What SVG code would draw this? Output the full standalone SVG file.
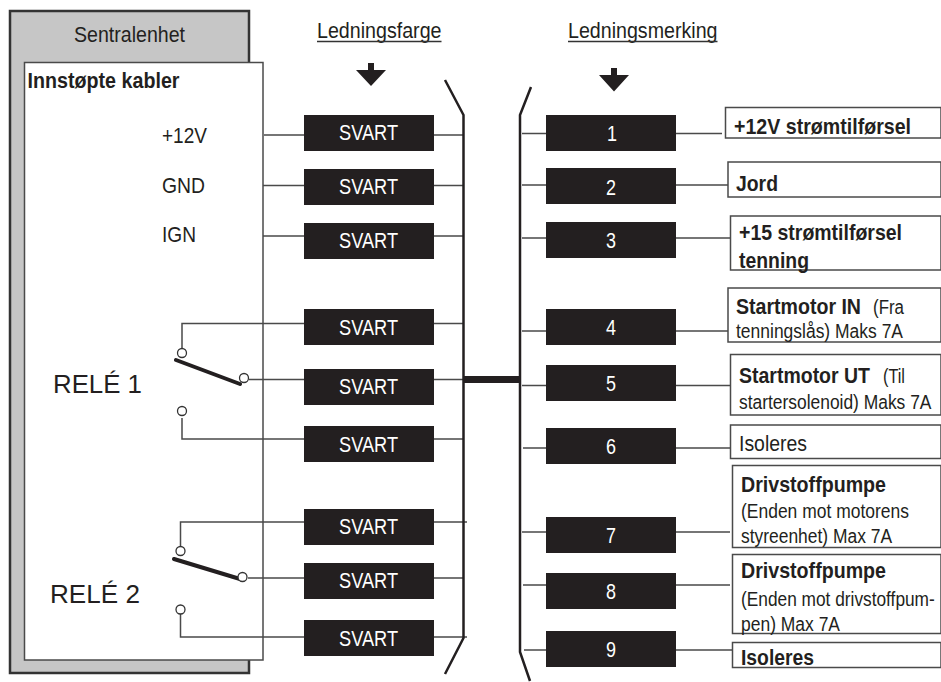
<svg xmlns="http://www.w3.org/2000/svg" width="941" height="682" viewBox="0 0 941 682">
<style>
text{font-family:"Liberation Sans",Arial,sans-serif;fill:#231f20;font-size:22px}
.b{font-weight:bold;font-size:21.500px}
.s{font-size:19.500px}
.r{font-size:25px}
.w{fill:#fff}
.box{fill:#231f20}
.lab{fill:#fff;stroke:#4a4a4a;stroke-width:1.5}
.wire{fill:none;stroke:#4a4a4a;stroke-width:1.5}
.bus{fill:none;stroke:#231f20;stroke-width:2.5}
.pin{fill:#fff;stroke:#333;stroke-width:1.3}
.arm{stroke:#231f20;stroke-width:4;stroke-linecap:round}
</style>
<g id="sentralenhet">
<path d="M10 11H249V673H10Z" fill="#c6c6c6" stroke="#333" stroke-width="2.5"/>
<text x="74" y="41.500" textLength="111" lengthAdjust="spacingAndGlyphs">Sentralenhet</text>
</g>
<g id="innstopte">
<rect x="24.500" y="62.500" width="238.500" height="597.500" fill="#fff" stroke="#4a4a4a" stroke-width="1.5"/>
<text x="27.500" y="87.500" class="b" textLength="152" lengthAdjust="spacingAndGlyphs">Innstøpte kabler</text>
<text x="162" y="142.500" textLength="45" lengthAdjust="spacingAndGlyphs">+12V</text>
<text x="162" y="193" textLength="43" lengthAdjust="spacingAndGlyphs">GND</text>
<text x="162" y="242" textLength="34" lengthAdjust="spacingAndGlyphs">IGN</text>
<text x="53" y="393" class="r" textLength="89" lengthAdjust="spacingAndGlyphs">RELÉ 1</text>
<text x="50" y="603" class="r" textLength="90" lengthAdjust="spacingAndGlyphs">RELÉ 2</text>
</g>
<g id="connectors">
<path class="wire" d="M264 135H304M263 185.500H304M263 236H304M182 352V323.500H304M249 379.500H304M182 418V439H304M180.500 550V522H304M248 578H304M180.500 612V637H304"/>
<path class="wire" d="M434 135H463M434 185.500H463M434 236H463M434 323.500H463M434 379.500H463M434 439H463M434 522H467M434 578H463M434 637H467"/>
<path class="wire" d="M522 133.500H546M522 185H546M522 238H546M522 331H546M522 385.500H546M523 448H546M522 532H546M523 585H546M524 650H546"/>
<path class="wire" d="M676 133.500H722M676 185H728M676 238H730M676 331H728M676 385.500H730M676 448H730M676 532H730M676 585H730M676 650H733"/>
<path class="bus" d="M445 80L463.500 115V638L445 674"/>
<path class="bus" d="M531 87L520 115V652L530 681"/>
<path d="M464 379.500H520" stroke="#231f20" stroke-width="7" fill="none"/>
<path class="arm" d="M176 360L240 384M174 559L240 579"/>
<circle class="pin" cx="182" cy="353" r="4.500"/>
<circle class="pin" cx="244" cy="378" r="4.500"/>
<circle class="pin" cx="182" cy="411" r="4.500"/>
<circle class="pin" cx="180.500" cy="551" r="4.500"/>
<circle class="pin" cx="242.500" cy="577" r="4.500"/>
<circle class="pin" cx="180.500" cy="609.500" r="4.500"/>
<path d="M368 63h6v7h12l-15 16l-15-16h12z" fill="#231f20"/>
<path d="M611 68h6v7h12l-15 16.500l-15-16.500h12z" fill="#231f20"/>
</g>
<g id="headers">
<text x="317" y="38" textLength="124.500" lengthAdjust="spacingAndGlyphs">Ledningsfarge</text>
<path d="M317 41.500H441.500" stroke="#333" stroke-width="1.300"/>
<text x="568" y="38" textLength="149.500" lengthAdjust="spacingAndGlyphs">Ledningsmerking</text>
<path d="M568 41.500H717.500" stroke="#333" stroke-width="1.300"/>
</g>
<g id="wire-1"><rect class="box" x="304" y="115" width="130" height="36"/><text class="w" x="339" y="140" textLength="59" lengthAdjust="spacingAndGlyphs">SVART</text></g>
<g id="wire-2"><rect class="box" x="304" y="169" width="130" height="36"/><text class="w" x="339" y="193.500" textLength="59" lengthAdjust="spacingAndGlyphs">SVART</text></g>
<g id="wire-3"><rect class="box" x="304" y="223" width="130" height="36"/><text class="w" x="339" y="248" textLength="59" lengthAdjust="spacingAndGlyphs">SVART</text></g>
<g id="wire-4"><rect class="box" x="304" y="309" width="130" height="36"/><text class="w" x="339" y="335" textLength="59" lengthAdjust="spacingAndGlyphs">SVART</text></g>
<g id="wire-5"><rect class="box" x="304" y="369" width="130" height="36"/><text class="w" x="339" y="394" textLength="59" lengthAdjust="spacingAndGlyphs">SVART</text></g>
<g id="wire-6"><rect class="box" x="304" y="426" width="130" height="36"/><text class="w" x="339" y="452" textLength="59" lengthAdjust="spacingAndGlyphs">SVART</text></g>
<g id="wire-7"><rect class="box" x="304" y="509" width="130" height="36"/><text class="w" x="339" y="534" textLength="59" lengthAdjust="spacingAndGlyphs">SVART</text></g>
<g id="wire-8"><rect class="box" x="304" y="563" width="130" height="36"/><text class="w" x="339" y="588" textLength="59" lengthAdjust="spacingAndGlyphs">SVART</text></g>
<g id="wire-9"><rect class="box" x="304" y="620" width="130" height="36"/><text class="w" x="339" y="646" textLength="59" lengthAdjust="spacingAndGlyphs">SVART</text></g>
<g id="mark-1"><rect class="box" x="546" y="115" width="130" height="36"/><text class="w" x="607" y="141" textLength="10" lengthAdjust="spacingAndGlyphs">1</text></g>
<g id="mark-2"><rect class="box" x="546" y="168" width="130" height="36"/><text class="w" x="606" y="194.500" textLength="10" lengthAdjust="spacingAndGlyphs">2</text></g>
<g id="mark-3"><rect class="box" x="546" y="222" width="130" height="36"/><text class="w" x="606" y="248" textLength="10" lengthAdjust="spacingAndGlyphs">3</text></g>
<g id="mark-4"><rect class="box" x="546" y="309" width="130" height="36"/><text class="w" x="606" y="335" textLength="10" lengthAdjust="spacingAndGlyphs">4</text></g>
<g id="mark-5"><rect class="box" x="546" y="365" width="130" height="36"/><text class="w" x="606" y="390.500" textLength="10" lengthAdjust="spacingAndGlyphs">5</text></g>
<g id="mark-6"><rect class="box" x="546" y="428" width="130" height="36"/><text class="w" x="606" y="454" textLength="10" lengthAdjust="spacingAndGlyphs">6</text></g>
<g id="mark-7"><rect class="box" x="546" y="517" width="130" height="36"/><text class="w" x="606" y="543" textLength="10" lengthAdjust="spacingAndGlyphs">7</text></g>
<g id="mark-8"><rect class="box" x="546" y="573" width="130" height="36"/><text class="w" x="606" y="599" textLength="10" lengthAdjust="spacingAndGlyphs">8</text></g>
<g id="mark-9"><rect class="box" x="546" y="631" width="130" height="36"/><text class="w" x="606" y="656.500" textLength="10" lengthAdjust="spacingAndGlyphs">9</text></g>
<g id="label-1"><rect class="lab" x="725.500" y="107.500" width="215.500" height="30.500"/><text class="b" x="734" y="134" textLength="177" lengthAdjust="spacingAndGlyphs">+12V strømtilførsel</text></g>
<g id="label-2"><rect class="lab" x="728" y="162" width="213" height="35"/><text class="b" x="736" y="191" textLength="42" lengthAdjust="spacingAndGlyphs">Jord</text></g>
<g id="label-3"><rect class="lab" x="730.500" y="216" width="210.500" height="54"/><text class="b" x="739" y="240" textLength="163" lengthAdjust="spacingAndGlyphs">+15 strømtilførsel</text><text class="b" x="739" y="268" textLength="70" lengthAdjust="spacingAndGlyphs">tenning</text></g>
<g id="label-4"><rect class="lab" x="728" y="288" width="213" height="54"/><text class="b" x="736" y="314" textLength="125" lengthAdjust="spacingAndGlyphs">Startmotor IN</text><text class="s" x="873" y="314" textLength="31" lengthAdjust="spacingAndGlyphs">(Fra</text><text class="s" x="736" y="338" textLength="167" lengthAdjust="spacingAndGlyphs">tenningslås) Maks 7A</text></g>
<g id="label-5"><rect class="lab" x="730.500" y="354.500" width="210.500" height="60.500"/><text class="b" x="739" y="382.500" textLength="131" lengthAdjust="spacingAndGlyphs">Startmotor UT</text><text class="s" x="883" y="382.500" textLength="22" lengthAdjust="spacingAndGlyphs">(Til</text><text class="s" transform="translate(739 409) scale(.893 1)">startersolenoid) Maks 7A</text></g>
<g id="label-6"><rect class="lab" x="730.500" y="425" width="210.500" height="33.500"/><text x="739" y="450.500" textLength="68" lengthAdjust="spacingAndGlyphs">Isoleres</text></g>
<g id="label-7"><rect class="lab" x="732.500" y="465.500" width="208.500" height="82"/><text class="b" x="741" y="491.500" textLength="145" lengthAdjust="spacingAndGlyphs">Drivstoffpumpe</text><text class="s" x="741" y="518" textLength="168" lengthAdjust="spacingAndGlyphs">(Enden mot motorens</text><text class="s" x="741" y="542.500" textLength="151" lengthAdjust="spacingAndGlyphs">styreenhet) Max 7A</text></g>
<g id="label-8"><rect class="lab" x="732.500" y="554.500" width="208.500" height="79"/><text class="b" x="741" y="578" textLength="145" lengthAdjust="spacingAndGlyphs">Drivstoffpumpe</text><text class="s" transform="translate(741 605.500) scale(.887 1)">(Enden mot drivstoffpum-</text><text class="s" x="741" y="631" textLength="99" lengthAdjust="spacingAndGlyphs">pen) Max 7A</text></g>
<g id="label-9"><rect class="lab" x="732.500" y="642.500" width="208.500" height="25"/><text class="b" x="741" y="665" textLength="73" lengthAdjust="spacingAndGlyphs">Isoleres</text></g>
</svg>
